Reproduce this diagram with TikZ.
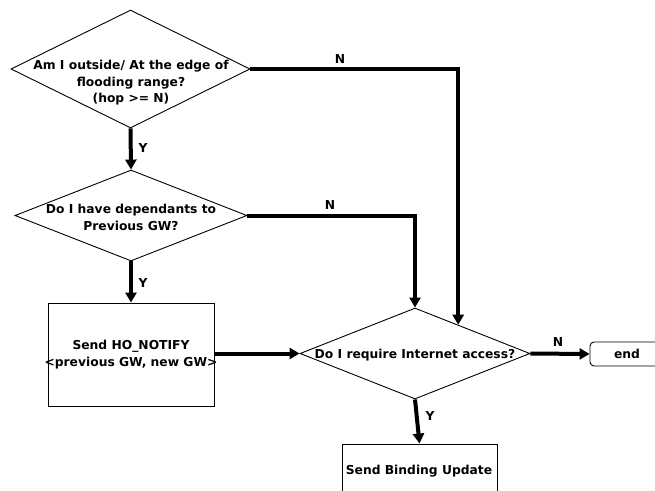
\documentclass[tikz,border=0pt]{standalone}
\usepackage{fontspec}
\setmainfont{DejaVu Sans}[BoldFont={DejaVu Sans Bold}]
\usetikzlibrary{shapes.geometric,arrows.meta}
\tikzset{
  dec/.style={shape=diamond, draw, line width=0.9pt, minimum width=#1, inner sep=0pt},
  txt/.style={font=\fontsize{12.3}{16.5}\selectfont\bfseries, align=center, inner sep=0pt},
  boxn/.style={draw, line width=0.9pt, inner sep=0pt},
  conn/.style={line width=4pt, -{Triangle[length=10pt,width=11pt]}},
  lbl/.style={font=\fontsize{12.3}{14}\selectfont\bfseries, inner sep=0pt}
}
\begin{document}
\begin{tikzpicture}[x=1pt,y=-1pt]
\useasboundingbox (0,0) rectangle (655,490);
\clip (0,0) rectangle (655,490);
% decisions
\node[dec=239pt, minimum height=118pt] (d1) at (130.5,69) {};
\node[txt] (t1) at (131,83) {Am I outside/ At the edge of\\flooding range?\\(hop >= N)};
\node[dec=232pt, minimum height=91pt] (d2) at (131,215.5) {};
\node[txt] (t2) at (131,217.5) {Do I have dependants to\\Previous GW?};
\node[dec=230pt, minimum height=91pt] (d3) at (415,353.5) {};
\node[txt] (t3) at (415,355) {Do I require Internet access?};
% boxes
\node[boxn, minimum width=166pt, minimum height=103pt] (r1) at (131,354.5) {};
\node[txt] (tr1) at (131,354.5) {Send HO\_NOTIFY\\<previous GW, new GW>};
\node[boxn, minimum width=155pt, minimum height=54pt] (r2) at (419.5,471) {};
\node[txt] (tr2) at (419,471) {Send Binding Update};
\node[boxn, rounded corners=4pt, minimum width=74pt, minimum height=24pt] (e) at (627,354) {};
\node[txt] (te) at (627,354) {end};
% connectors
\path (d3.north) -- (d3.east) coordinate[pos=0.374] (d3in);
\draw[conn] (d1.east) -| (d3in);
\draw[conn] (d2.east) -| (d3.north);
\draw[conn] (d1.south) -- (d2.north);
\draw[conn] (d2.south) -- (r1.north);
\draw[conn] (r1.east |- d3.west) -- (d3.west);
\draw[conn] (d3.east) -- (e.west);
\draw[conn] (d3.south) -- (r2.north);
% labels
\node[lbl] (l1) at (340,59) {N};
\node[lbl] (l2) at (330,205) {N};
\node[lbl] (l3) at (143,148) {Y};
\node[lbl] (l4) at (143,283) {Y};
\node[lbl] (l5) at (558,342) {N};
\node[lbl] (l6) at (430,416) {Y};
\end{tikzpicture}
\end{document}
